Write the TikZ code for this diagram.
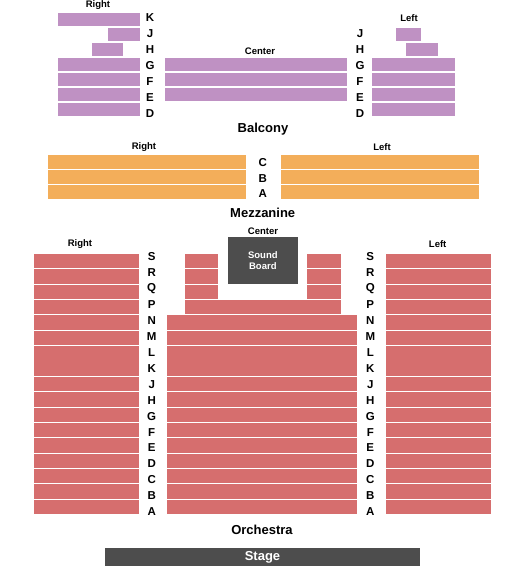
\documentclass[tikz,border=0pt]{standalone}
\usepackage{fontspec}
\setmainfont{Liberation Sans}
\usetikzlibrary{positioning}
\definecolor{balc}{RGB}{191,145,195}
\definecolor{mezz}{RGB}{243,174,90}
\definecolor{orch}{RGB}{214,110,110}
\definecolor{board}{RGB}{77,77,77}
\tikzset{
  rowlbl/.style={font=\bfseries\fontsize{11.5}{12}\selectfont, inner sep=0pt},
  sidelbl/.style={font=\bfseries\fontsize{9.5}{10}\selectfont, inner sep=0pt},
  levellbl/.style={font=\bfseries\fontsize{13}{14}\selectfont, inner sep=0pt},
  darkbox/.style={fill=board, text=white, inner sep=0pt},
}

\begin{document}
\begin{tikzpicture}[x=1pt, y=-1pt]
  \useasboundingbox (0,0) rectangle (525,570);
  % balcony
  \foreach \i/\a/\b in {0/58/140, 1/108/140, 2/92/122.7, 3/58/140, 4/58/140, 5/58/140, 6/58/140}
    \fill[balc] (\a,12.5+15*\i) rectangle (\b,26.2+15*\i);
  \foreach \i in {3,4,5}
    \fill[balc] (165,12.5+15*\i) rectangle (347,26.2+15*\i);
  \foreach \i/\a/\b in {1/396/421, 2/406/438, 3/372/455, 4/372/455, 5/372/455, 6/372/455}
    \fill[balc] (\a,12.5+15*\i) rectangle (\b,26.2+15*\i);
  \foreach \l [count=\i from 0] in {K,J,H,G,F,E,D}
    \node[rowlbl] (bR\l) at (150,17.5+16*\i) {\l};
  \foreach \l [count=\i from 1] in {J,H,G,F,E,D}
    \node[rowlbl] (bL\l) at (360,17.5+16*\i) {\l};
  \node[sidelbl] (bright) at (98,5.5) {Right};
  \node[sidelbl] (bcenter) at (260,51) {Center};
  \node[sidelbl] (bleft) at (409,18.5) {Left};
  \node[levellbl] (balcony) at (263,129) {Balcony};
  % mezzanine
  \foreach \i in {0,1,2} {
    \fill[mezz] (48,155+15*\i) rectangle (246,169.2+15*\i);
    \fill[mezz] (280.7,155+15*\i) rectangle (479,169.2+15*\i);
  }
  \foreach \l [count=\i from 0] in {C,B,A}
    \node[rowlbl] (m\l) at (262.7,162.7+15.6*\i) {\l};
  \node[sidelbl] (mright) at (144,147) {Right};
  \node[sidelbl] (mleft) at (382,147.5) {Left};
  \node[levellbl] (mezzanine) at (262.7,213) {Mezzanine};
  % orchestra
  \foreach \i in {0,...,16} {
    \fill[orch] (34,254+15.35*\i) rectangle (139,268.4+15.35*\i);
    \fill[orch] (386,254+15.35*\i) rectangle (491,268.4+15.35*\i);
  }
  \foreach \i in {0,1,2} {
    \fill[orch] (185,254+15.35*\i) rectangle (217.7,268.4+15.35*\i);
    \fill[orch] (307,254+15.35*\i) rectangle (341,268.4+15.35*\i);
  }
  \fill[orch] (185,254+15.35*3) rectangle (341,268.4+15.35*3);
  \foreach \i in {4,...,16}
    \fill[orch] (166.7,254+15.35*\i) rectangle (357.3,268.4+15.35*\i);
  \foreach \l [count=\i from 0] in {S,R,Q,P,N,M,L,K,J,H,G,F,E,D,C,B,A} {
    \node[rowlbl] (oR\l) at (151.7,256.7+15.94*\i) {\l};
    \node[rowlbl] (oL\l) at (370.3,256.7+15.94*\i) {\l};
  }
  \node[darkbox, minimum width=69.7, minimum height=47] (sound) at (262.85,260.5) {};
  \node[sidelbl, text=white, align=center] (soundtxt) at (sound) {Sound\\[1.6pt]Board};
  \node[sidelbl] (ocenter) at (263,231) {Center};
  \node[sidelbl] (oright) at (80,244) {Right};
  \node[sidelbl] (oleft) at (437.7,244.5) {Left};
  \node[levellbl] (orchestra) at (262,530) {Orchestra};
  % stage
  \node[darkbox, minimum width=315, minimum height=18] (stage) at (262.5,557) {};
  \node[levellbl, text=white, anchor=base] (stagetxt) at (262.5,560.8) {Stage};
\end{tikzpicture}
\end{document}
